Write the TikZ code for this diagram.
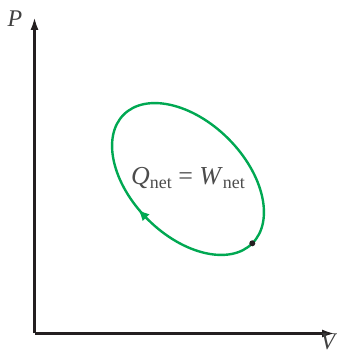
\documentclass[tikz,border=0pt]{standalone}
\usepackage{fontspec}
\setmainfont{Liberation Serif}
\usetikzlibrary{arrows.meta,decorations.markings,calc}
\definecolor{cyclegreen}{RGB}{0,168,82}
\definecolor{axisblack}{RGB}{35,31,32}
\tikzset{
  axisline/.style={draw=axisblack,line width=2.4bp,-{Latex[length=13bp,width=8bp]}},
  cycle/.style={draw=cyclegreen,line width=2.4bp},
  lbl/.style={text=black!75,inner sep=0pt,font=\fontsize{24}{28}\selectfont\itshape}
}
\begin{document}
\begin{tikzpicture}[x=1bp,y=1bp]
\useasboundingbox (0,0) rectangle (337,354);
\coordinate (O) at (34.5,20.5);
\coordinate (Ptip) at (34.5,337);
\coordinate (Vtip) at (335,20.5);
\draw[axisline] (O) -- (Ptip);
\draw[axisline] (O) -- (Vtip);
\node[lbl] (P) at (15,335) {P};
\node[lbl] (V) at (328,12) {V};
\coordinate (C) at (188,175);
\draw[cycle,postaction={decorate},decoration={markings,
  mark=at position 0.745 with {\arrow[cyclegreen]{Latex[length=11bp,width=10bp,reversed]}}}]
  (C) circle[x radius=91bp,y radius=57bp,rotate=-45];
\node[circle,fill=axisblack,inner sep=0pt,minimum size=6bp] (dot) at ($(C)+(64.3,-64.3)$) {};
\node[text=black!70,inner sep=0pt,anchor=base,font=\fontsize{26}{30}\selectfont] (eq) at (188,170)
  {\textit{Q}{\fontsize{18}{20}\selectfont\raisebox{-4bp}{net}} = \textit{W}{\fontsize{18}{20}\selectfont\raisebox{-4bp}{net}}};
\end{tikzpicture}
\end{document}
